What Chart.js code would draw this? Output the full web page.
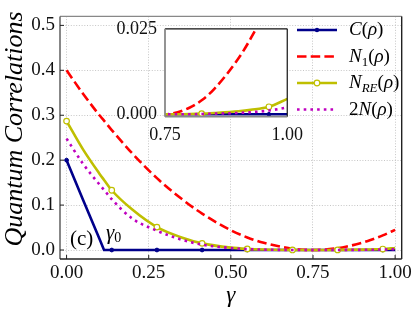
<!DOCTYPE html>
<html>
<head>
<meta charset="utf-8">
<script src="https://cdn.jsdelivr.net/npm/chart.js@4.4.1/dist/chart.umd.min.js"></script>
<style>
  body { margin: 0; background: #fff; }
  #wrap { position: relative; width: 415px; height: 311px; }
  #main { position: absolute; left: 0; top: 0; }
  #inset { position: absolute; left: 100px; top: 10px; }
</style>
</head>
<body>
<div id="wrap">
  <canvas id="main" width="415" height="311"></canvas>
  <canvas id="inset" width="211" height="140"></canvas>
</div>
<script>
// values
const gamma       = [0, 0.05, 0.1, 0.114, 0.1375, 0.2, 0.275, 0.35, 0.4125, 0.5, 0.55, 0.6, 0.6875, 0.75, 0.8, 0.825, 0.85, 0.9, 0.925, 0.9625, 1.0];
const concurrence = [0.200, 0.112, 0.025, 0, 0, 0, 0, 0, 0, 0, 0, 0, 0, 0, 0, 0, 0, 0, 0, 0, 0];
const negN1       = [0.400, 0.348, 0.300, 0.288, 0.267, 0.215, 0.160, 0.114, 0.081, 0.044, 0.028, 0.016, 0.003, 0.000, 0.0019, 0.0041, 0.0073, 0.0163, 0.0221, 0.0325, 0.0449];
const negRE       = [0.287, 0.224, 0.170, 0.156, 0.133, 0.090, 0.051, 0.028, 0.0148, 0.0053, 0.0025, 0.0010, 0.0001, 0, 0.0001, 0.0002, 0.0004, 0.0009, 0.0013, 0.0022, 0.0045];
const twoNeg      = [0.248, 0.192, 0.146, 0.134, 0.113, 0.070, 0.043, 0.023, 0.012, 0.0045, 0.0020, 0.0008, 0.0001, 0, 0, 0.0001, 0.0002, 0.0004, 0.0006, 0.0011, 0.0020];
const markerIdx   = [0, 4, 6, 8, 10, 12, 15, 19];

const xTicks = [0, 0.25, 0.5, 0.75, 1.0];
const yTicks = [0, 0.1, 0.2, 0.3, 0.4, 0.5];
const insetXTicks = [0.75, 1.0];
const insetYTicks = [0, 0.025];

const SERIF = '"Liberation Serif", "DejaVu Serif", serif';
const NAVY = '#00008b', RED = '#ff0000', YEL = '#bfbf00', MAG = '#bf00bf';
const LW = 2.6;

function buildDatasets() {
  const pts = ys => gamma.map((g, i) => ({ x: g, y: ys[i] }));
  const mark = r => ctx => markerIdx.includes(ctx.dataIndex) ? r : 0;
  return [
    { data: pts(concurrence), borderColor: NAVY, backgroundColor: NAVY, borderWidth: LW, tension: 0,
      pointRadius: mark(1.9), pointBorderWidth: 1, pointBackgroundColor: NAVY, pointBorderColor: NAVY, order: 4 },
    { data: pts(negN1), borderColor: RED, borderWidth: LW, borderDash: [9.5, 4.2],
      cubicInterpolationMode: 'monotone', pointRadius: 0, order: 3 },
    { data: pts(negRE), borderColor: YEL, borderWidth: LW, cubicInterpolationMode: 'monotone',
      pointRadius: mark(2.8), pointBorderWidth: 1.2, pointBackgroundColor: '#fff', pointBorderColor: YEL, order: 2 },
    { data: pts(twoNeg), borderColor: MAG, borderWidth: LW, borderDash: [2.6, 4.1],
      cubicInterpolationMode: 'monotone', pointRadius: 0, order: 1 }
  ];
}

// draws text made of pieces (italic, subscripts)
function drawRich(ctx, x, y, segs, size) {
  segs.forEach(s => {
    const sz = s.size || size;
    ctx.font = (s.it ? 'italic ' : '') + sz + 'px ' + SERIF;
    ctx.fillText(s.t, x, y + (s.dy || 0));
    x += ctx.measureText(s.t).width;
  });
}

const legendItems = [
  { color: NAVY, dash: [], marker: 'dot', segs: [{ t: 'C', it: 1 }, { t: '(' }, { t: 'ρ', it: 1 }, { t: ')' }] },
  { color: RED, dash: [9.5, 4.2], segs: [{ t: 'N', it: 1 }, { t: '1', size: 13, dy: 4 }, { t: '(' }, { t: 'ρ', it: 1 }, { t: ')' }] },
  { color: YEL, dash: [], marker: 'ring', segs: [{ t: 'N', it: 1 }, { t: 'RE', it: 1, size: 13, dy: 4 }, { t: '(' }, { t: 'ρ', it: 1 }, { t: ')' }] },
  { color: MAG, dash: [2.6, 4.1], segs: [{ t: '2' }, { t: 'N', it: 1 }, { t: '(' }, { t: 'ρ', it: 1 }, { t: ')' }] }
];

const mainDecor = {
  id: 'mainDecor',
  afterDraw(chart) {
    const ctx = chart.ctx, a = chart.chartArea;
    const xs = chart.scales.x, ys = chart.scales.y;
    ctx.save();
    // frame
    const edge = (x1, y1, x2, y2, c) => { ctx.strokeStyle = c; ctx.lineWidth = 1.4; ctx.beginPath(); ctx.moveTo(x1, y1); ctx.lineTo(x2, y2); ctx.stroke(); };
    edge(a.left, a.top, a.right, a.top, '#888');
    edge(a.left, a.top, a.left, a.bottom, '#555');
    edge(a.left, a.bottom, a.right, a.bottom, '#222');
    edge(a.right, a.top, a.right, a.bottom, '#222');
    // inward ticks
    ctx.strokeStyle = '#222'; ctx.lineWidth = 1;
    xTicks.forEach(v => { const p = xs.getPixelForValue(v); ctx.beginPath(); ctx.moveTo(p, a.bottom); ctx.lineTo(p, a.bottom - 4); ctx.stroke(); });
    yTicks.forEach(v => { const p = ys.getPixelForValue(v); ctx.beginPath(); ctx.moveTo(a.left, p); ctx.lineTo(a.left + 4, p); ctx.stroke(); });

    // legend
    ctx.fillStyle = '#000';
    ctx.textBaseline = 'alphabetic';
    legendItems.forEach((it, i) => {
      const y = 30 + i * 26.5;
      ctx.strokeStyle = it.color; ctx.lineWidth = LW; ctx.setLineDash(it.dash);
      ctx.beginPath(); ctx.moveTo(297, y); ctx.lineTo(337, y); ctx.stroke();
      ctx.setLineDash([]);
      if (it.marker === 'dot') {
        ctx.fillStyle = it.color; ctx.beginPath(); ctx.arc(317, y, 2.2, 0, Math.PI * 2); ctx.fill();
      } else if (it.marker === 'ring') {
        ctx.fillStyle = '#fff'; ctx.lineWidth = 1.2; ctx.beginPath(); ctx.arc(317, y, 2.8, 0, Math.PI * 2); ctx.fill(); ctx.stroke();
      }
      ctx.fillStyle = '#000';
      drawRich(ctx, 349, y + 5, it.segs, 19);
    });

    // panel label and gamma_0
    drawRich(ctx, 70, 245, [{ t: '(c)' }], 21);
    drawRich(ctx, 106, 239, [{ t: 'γ', it: 1 }, { t: '0', size: 14, dy: 3 }], 21);

    // axis titles
    ctx.textAlign = 'center';
    ctx.font = 'italic 23px ' + SERIF;
    ctx.fillText('γ', (a.left + a.right) / 2, 302);
    ctx.translate(22, 129);
    ctx.rotate(-Math.PI / 2);
    ctx.font = 'italic 26px ' + SERIF;
    ctx.fillText('Quantum Correlations', 0, 0);
    ctx.restore();
  }
};

const insetDecor = {
  id: 'insetDecor',
  beforeDatasetsDraw(chart) {
    const ctx = chart.ctx, a = chart.chartArea;
    ctx.save();
    ctx.fillStyle = '#fff';
    ctx.fillRect(a.left, a.top, a.right - a.left, a.bottom - a.top);
    ctx.restore();
  },
  afterDraw(chart) {
    const ctx = chart.ctx, a = chart.chartArea;
    ctx.save();
    const edge = (x1, y1, x2, y2, c, w) => { ctx.strokeStyle = c; ctx.lineWidth = w; ctx.beginPath(); ctx.moveTo(x1, y1); ctx.lineTo(x2, y2); ctx.stroke(); };
    edge(a.left, a.top, a.right, a.top, '#111', 1.2);
    edge(a.right, a.top, a.right, a.bottom, '#111', 1.2);
    edge(a.left, a.top, a.left, a.bottom, '#888', 1.8);
    edge(a.left, a.bottom, a.right, a.bottom, '#888', 1.8);
    ctx.restore();
  }
};

const tickFont = { family: SERIF, size: 19 };

new Chart(document.getElementById('main'), {
  type: 'line',
  data: { datasets: buildDatasets() },
  options: {
    responsive: false, animation: false, devicePixelRatio: 1,
    layout: { padding: { top: 9, right: 13, left: 0, bottom: 0 } },
    plugins: { legend: { display: false }, tooltip: { enabled: false } },
    scales: {
      x: {
        type: 'linear', min: -0.02, max: 1.02,
        afterBuildTicks: ax => { ax.ticks = xTicks.map(v => ({ value: v })); },
        afterFit: s => { s.height = 52; },
        ticks: { font: tickFont, color: '#111', padding: 3, autoSkip: false, maxRotation: 0, callback: v => v.toFixed(2) },
        grid: { color: '#b8b8b8', lineWidth: 0.8, drawTicks: false },
        border: { display: false, dash: [1, 1.7] }
      },
      y: {
        min: -0.02, max: 0.52,
        afterBuildTicks: ax => { ax.ticks = yTicks.map(v => ({ value: v })); },
        afterFit: s => { s.width = 60; },
        ticks: { font: tickFont, color: '#111', padding: 5, autoSkip: false, callback: v => v.toFixed(1) },
        grid: { color: '#b8b8b8', lineWidth: 0.8, drawTicks: false },
        border: { display: false, dash: [1, 1.7] }
      }
    }
  },
  plugins: [mainDecor]
});

new Chart(document.getElementById('inset'), {
  type: 'line',
  data: { datasets: buildDatasets() },
  options: {
    responsive: false, animation: false, devicePixelRatio: 1,
    layout: { padding: { top: 14.3, right: 20, left: 0, bottom: 0 } },
    plugins: { legend: { display: false }, tooltip: { enabled: false } },
    scales: {
      x: {
        type: 'linear', min: 0.75, max: 1.0,
        afterBuildTicks: ax => { ax.ticks = insetXTicks.map(v => ({ value: v })); },
        afterFit: s => { s.height = 33.3; },
        ticks: { font: { family: SERIF, size: 18 }, color: '#111', padding: 8, autoSkip: false, maxRotation: 0, callback: v => v.toFixed(2) },
        grid: { display: false, drawTicks: false },
        border: { display: false }
      },
      y: {
        min: -0.0007, max: 0.025,
        afterBuildTicks: ax => { ax.ticks = insetYTicks.map(v => ({ value: v })); },
        afterFit: s => { s.width = 65; },
        ticks: { font: { family: SERIF, size: 18 }, color: '#111', padding: 8, autoSkip: false, callback: v => v.toFixed(3) },
        grid: { display: false, drawTicks: false },
        border: { display: false }
      }
    }
  },
  plugins: [insetDecor]
});
</script>
</body>
</html>
